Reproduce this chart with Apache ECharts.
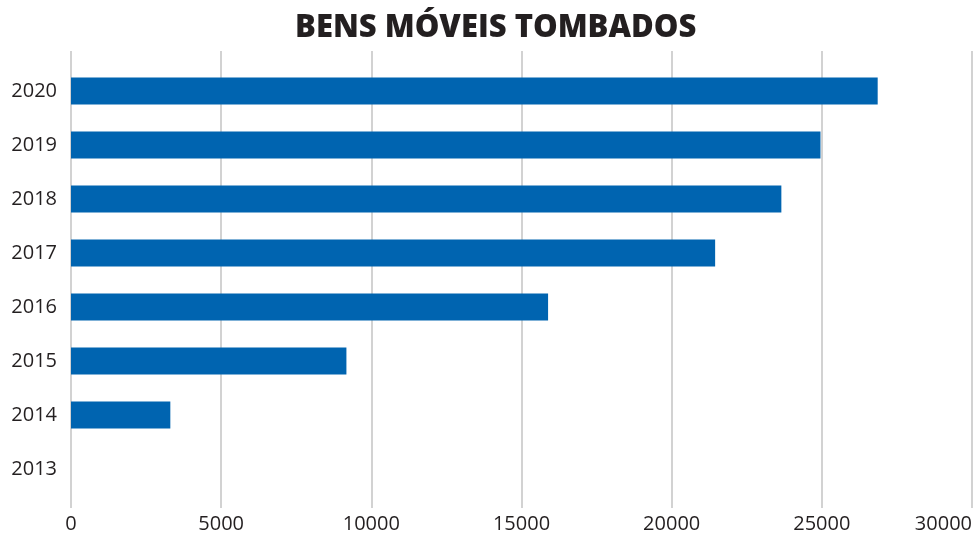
<!DOCTYPE html>
<html>
<head>
<meta charset="utf-8">
<script src="https://cdn.jsdelivr.net/npm/echarts@6/dist/echarts.min.js"></script>
<style>
  html, body { margin: 0; padding: 0; background: #fff; }
  #chart { width: 975px; height: 534px; }
</style>
</head>
<body>
<div id="chart"></div>
<script>
// Bens móveis tombados por ano
const years = ['2013', '2014', '2015', '2016', '2017', '2018', '2019', '2020'];
const counts = [0, 3300, 9150, 15850, 21400, 23600, 24900, 26800];
const xTicks = [0, 5000, 10000, 15000, 20000, 25000, 30000];

const FONT = '"Open Sans", Lato, sans-serif';
const xMin = xTicks[0];
const xMax = xTicks[xTicks.length - 1];
const xStep = xTicks[1] - xTicks[0];

const chart = echarts.init(document.getElementById('chart'), null, { renderer: 'canvas' });
chart.setOption({
  animation: false,
  backgroundColor: '#ffffff',
  title: {
    text: 'BENS MÓVEIS TOMBADOS',
    left: 290,
    top: 8,
    textStyle: { fontFamily: FONT, fontWeight: 800, fontSize: 31, color: '#231f20' }
  },
  grid: [
    // full-height grid: vertical guide lines and value labels
    { left: 71, right: 1, top: 51, bottom: 26, containLabel: false },
    // bar grid
    { left: 71, right: 1, top: 64, bottom: 38, containLabel: false }
  ],
  xAxis: [
    {
      gridIndex: 0,
      type: 'value',
      min: xMin, max: xMax, interval: xStep,
      axisLine: { show: false },
      axisTick: { show: false },
      splitLine: { show: true, lineStyle: { color: '#d2d2d2', width: 2 } },
      axisLabel: {
        color: '#231f20', fontFamily: FONT, fontSize: 20, margin: 6,
        alignMaxLabel: 'right',
        formatter: (v) => String(v)
      }
    },
    {
      gridIndex: 1,
      type: 'value',
      min: xMin, max: xMax, interval: xStep,
      show: false
    }
  ],
  yAxis: [
    {
      gridIndex: 0,
      type: 'category',
      data: years,
      show: false
    },
    {
      gridIndex: 1,
      type: 'category',
      data: years,
      axisLine: { show: false },
      axisTick: { show: false },
      splitLine: { show: false },
      axisLabel: { color: '#231f20', fontFamily: FONT, fontSize: 20, margin: 14 }
    }
  ],
  series: [
    {
      type: 'bar',
      xAxisIndex: 1,
      yAxisIndex: 1,
      data: counts,
      barWidth: '50%',
      itemStyle: { color: '#0064b0' }
    }
  ]
});
</script>
</body>
</html>
